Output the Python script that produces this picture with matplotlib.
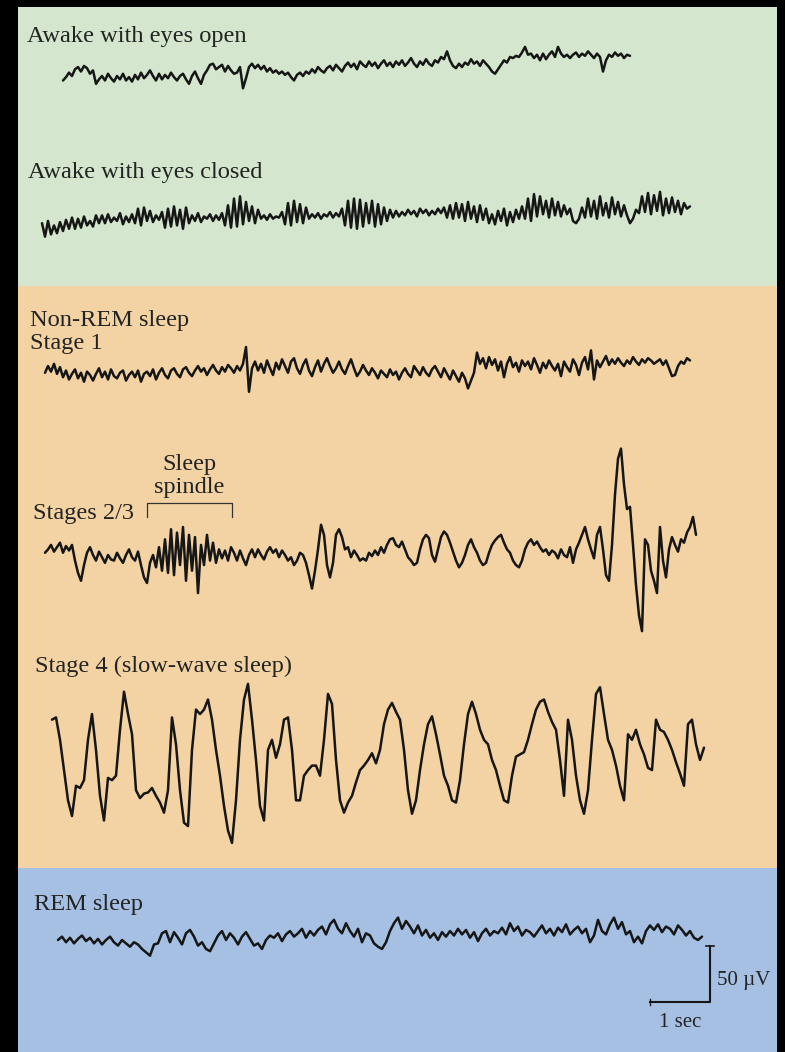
import numpy as np
import matplotlib.pyplot as plt

# EEG traces, amplitude in microvolts (up = positive),
# evenly sampled; the sample step of each trace is given in TRACES below.
awake_open = [
    -4, -1, 3, 0, 6, 8, 4, 9, 7, 2,
    5, -7, -3, 0, -4, 2, -2, -5, 0, -3,
    2, -4, -1, -5, 1, -3, 3, -2, 1, 5,
    0, -4, 2, -3, 1, -2, 3, -1, -4, 0,
    2, -3, -7, 0, 4, -2, -7, 1, 5, 10,
    11, 6, 8, 10, 4, 9, 5, 2, 3, 8,
    -11, -2, 8, 11, 7, 10, 6, 9, 4, 7,
    3, 5, 2, 4, 1, 3, -1, -4, 1, 3,
    0, 4, 2, 6, 3, 8, 5, 3, 7, 9,
    5, 10, 7, 4, 9, 12, 8, 11, 6, 13,
    10, 8, 13, 9, 12, 7, 11, 14, 9, 12,
    8, 13, 10, 14, 9, 12, 16, 11, 8, 13,
    10, 15, 11, 9, 14, 12, 17, 15, 22, 14,
    9, 7, 11, 8, 12, 10, 15, 11, 13, 9,
    14, 11, 8, 4, 2, 6, 10, 14, 12, 17,
    16, 18, 17, 21, 26, 19, 20, 16, 19, 14,
    20, 15, 19, 22, 17, 26, 20, 17, 19, 16,
    19, 21, 17, 20, 18, 22, 19, 16, 20, 17,
    4, 14, 19, 17, 21, 18, 20, 16, 19, 18,
]

awake_closed = [
    -10, -22, -8, -20, -12, -19, -9, -17, -7, -15,
    -5, -15, -6, -14, -4, -12, -8, -13, -3, -10,
    -3, -10, -2, -9, -5, -8, -1, -11, -4, -9,
    -2, -10, 3, -12, 4, -8, 1, -9, -3, -7,
    0, -14, 3, -13, 5, -12, 2, -15, 4, -10,
    -3, -8, -1, -9, -4, -6, -2, -8, -3, -7,
    -1, -12, 6, -14, 12, -13, 14, -11, 9, -8,
    5, -10, 2, -6, -3, -7, -2, -6, -4, -5,
    0, -11, 8, -12, 10, -9, 7, -10, 4, -6,
    -2, -5, -1, -6, -2, -4, 0, -5, -1, -4,
    3, -12, 10, -14, 12, -15, 11, -13, 8, -10,
    10, -13, 7, -11, 4, -8, 2, -5, 1, -4,
    0, -3, 2, -2, 1, -4, 3, -1, 2, -3,
    1, -2, 3, -1, 4, -5, 6, -6, 8, -5,
    7, -8, 9, -6, 5, -9, 6, -7, 3, -10,
    -2, -11, 1, -8, 3, -12, 0, -9, 2, -6,
    5, -6, 12, -8, 16, -4, 14, -2, 10, -5,
    12, -3, 9, -4, 6, -2, 3, -8, -10, -6,
    4, -5, 12, -4, 10, -6, 14, -3, 8, -5,
    13, -2, 9, -4, 6, -3, -10, -6, 2, -1,
    14, 0, 17, -2, 15, 1, 18, -3, 12, -1,
    13, 0, 10, -2, 8, 3, 5,
]

stage1 = [
    2, 8, 3, 10, 1, 7, -2, 4, -4, 1,
    5, -3, 2, -6, 3, 0, -5, 1, 6, -2,
    3, -4, 5, -1, -3, 2, 4, -5, 0, 3,
    -2, 4, -6, 1, 3, -1, 5, -4, 2, 6,
    0, -3, 4, 6, 1, -2, 5, 7, 2, -1,
    4, 8, 3, 6, 0, 5, 9, 4, 1, 7,
    3, 9, 6, 2, 8, 4, 10, 25, -15, 6,
    12, 4, 10, 2, 13, 6, 0, 11, 5, 14,
    8, 2, 12, 15, 6, 1, 9, 14, 4, -1,
    7, 13, 3, 10, 15, 8, 2, 6, 12, 5,
    1, 8, 14, 6, -1, 3, 9, 4, 0, 6,
    2, -3, 4, 1, -2, 5, 0, 3, -4, 2,
    6, 1, -2, 8, 4, 0, 7, 2, -1, 5,
    8, 3, -2, 6, 1, -4, 4, -1, -6, 2,
    -3, -12, -5, 2, 20, 10, 15, 6, 16, 9,
    14, 4, 12, -2, 10, 16, 7, 11, 3, 13,
    8, 12, 5, 15, 9, 2, 11, 6, 13, 8,
    4, 10, -1, 12, 7, 3, 14, 9, 0, 11,
    16, 5, 22, -4, 13, 7, 12, 17, 9, 14,
    10, 15, 11, 8, 13, 10, 16, 12, 9, 14,
    11, 15, 13, 10, 12, 14, 9, 13, 6, -1,
    0, 8, 12, 10, 15, 13,
]

stages23 = [
    2, 5, 9, 3, 7, 11, 2, 8, 4, 9,
    -5, -16, -23, -9, 2, 7, 0, -5, 3, -2,
    -7, 0, -4, -5, 2, -3, -7, 0, 5, -2,
    -5, 3, -9, -20, -25, -7, 0, -11, 7, -14,
    14, -16, 23, -18, 20, -9, 25, -23, 18, -14,
    16, -34, 9, -9, 18, -5, 11, -7, 5, -3,
    4, -5, 7, 2, -5, 4, -3, -9, 0, 5,
    -2, 5, 0, -4, 3, 7, 2, 5, -2, 4,
    0, -5, -2, -9, -5, 2, 0, -7, -18, -30,
    -14, 5, 27, 18, -9, -20, -7, 18, 23, 16,
    5, 7, -2, 4, 0, -5, -3, -5, 2, -1,
    4, 0, 7, 2, 9, 14, 15, 9, 7, 12,
    5, -2, -5, -9, -7, 5, 14, 18, 15, 0,
    -6, 5, 16, 21, 18, 11, 3, -5, -11, -7,
    0, 9, 14, 7, 2, -5, -9, -7, 2, 9,
    13, 16, 18, 11, 5, 2, -5, -9, -11, -5,
    5, 11, 14, 9, 12, 7, 3, 5, 0, 4,
    2, -3, 5, 0, -2, 7, -7, 5, 11, 18,
    25, 14, 5, -3, 18, 25, 5, -18, -23, 9,
    54, 86, 95, 63, 41, 43, 9, -27, -54, -68,
    14, 9, -14, -23, -34, 25, -5, -20, 5, 16,
    9, 3, 14, 11, 20, 25, 34, 18,
]

stage4 = [
    36, 38, 18, -9, -36, -50, -23, -25, -18, 18,
    41, 9, -32, -54, -16, -18, -14, 27, 61, 41,
    23, -27, -34, -30, -29, -25, -32, -38, -47, -27,
    38, 14, -27, -56, -59, 9, 45, 41, 45, 54,
    36, 9, -14, -41, -63, -74, -36, 18, 54, 68,
    36, 0, -41, -54, 9, 18, 2, 14, 36, 38,
    9, -36, -36, -14, -9, -5, -5, -14, 18, 59,
    50, 0, -36, -47, -38, -32, -20, -9, -5, 0,
    6, -3, 9, 32, 45, 51, 43, 36, 9, -27,
    -48, -36, -9, 14, 32, 39, 23, 5, -14, -23,
    -36, -38, -18, 14, 41, 52, 41, 27, 18, 14,
    0, -9, -23, -36, -38, -14, 3, 5, 7, 18,
    32, 45, 52, 54, 43, 34, 27, 0, -32, 36,
    18, -14, -36, -48, -27, 18, 59, 65, 41, 18,
    9, -5, -23, -36, 23, 18, 27, 14, 5, -7,
    -9, 36, 27, 25, 18, 9, -2, -12, -23, 32,
    36, 14, 0, 11,
]

rem = [
    0, 3, -2, 2, -3, 1, 4, -1, 2, -3,
    1, -4, 0, 3, -2, -5, 0, -3, -6, -2,
    -4, -8, -11, -14, -4, -3, 6, 8, -2, 7,
    2, -4, 6, 9, 3, -5, -2, -8, -10, -3,
    4, 8, 0, 6, 2, -4, 3, 7, 1, -5,
    -3, -8, 0, 4, 2, 6, -1, 5, 8, 3,
    6, 10, 2, 8, 4, 9, 12, 5, 14, 18,
    10, 6, 15, 8, 3, 10, -2, 6, 4, -3,
    -6, -8, -2, 8, 15, 20, 10, 17, 12, 6,
    13, 4, 9, 2, 6, 0, 7, 3, 8, 4,
    10, 5, 9, 2, 7, -1, 6, 10, 4, 8,
    6, 11, 5, 15, 8, 12, 4, 9, 7, 3,
    8, 13, 6, 10, 4, 11, 7, 14, 5, 9,
    12, 6, 10, -2, 4, 18, 8, 5, 14, 20,
    10, 16, 5, 8, -2, 3, -3, 8, 13, 9,
    14, 7, 12, 10, 5, 13, 9, 4, 8, 2,
    0, 3,
]

# sleep spindle span (s) and scale bar size
spindle_span = (2.45, 3.87)
bar_sec = 1.0
bar_uv = 50.0

# ---- layout (pixels of the 785x1052 page) ----
W, H = 785, 1052
PX_PER_SEC = 60.0
PX_PER_UV = 1.12


def sx(px):
    return px / PX_PER_SEC


def sy(px):
    return -px / PX_PER_UV


# (values, sample step in s, left edge px, baseline px)
TRACES = [
    (awake_open, 0.05, 63, 76),
    (awake_closed, 0.05, 42, 212),
    (stage1, 0.05, 45, 375),
    (stages23, 0.05, 45, 555),
    (stage4, 1 / 15, 52, 760),
    (rem, 1 / 15, 58, 940),
]

LABELS = [
    ("Awake with eyes open", 27, 42),
    ("Awake with eyes closed", 28, 178),
    ("Non-REM sleep", 30, 326),
    ("Stage 1", 30, 349),
    ("Stages 2/3", 33, 519),
    ("Stage 4 (slow-wave sleep)", 35, 672),
    ("REM sleep", 34, 910),
]

SERIF = ["Liberation Serif", "DejaVu Serif"]
INK = "#161616"
TXT = "#232323"

fig = plt.figure(figsize=(W / 100, H / 100), dpi=100, facecolor="black")
ax = fig.add_axes([0, 0, 1, 1])
ax.set_xlim(0, sx(W))
ax.set_ylim(sy(H), 0)
ax.axis("off")

bands = [(7, 286, "#d4e6cd"), (286, 868, "#f3d3a3"), (868, H, "#a5c0e3")]
for top, bottom, col in bands:
    ax.axhspan(sy(bottom), sy(top), xmin=18 / W, xmax=777 / W,
               color=col, lw=0, zorder=0)

for vals, dt, x0, y0 in TRACES:
    v = np.asarray(vals, dtype=float)
    t = sx(x0) + dt * np.arange(len(v))
    ax.plot(t, sy(y0) + v, color=INK, lw=1.8, solid_joinstyle="round",
            solid_capstyle="round", zorder=3)

for txt, x, y in LABELS:
    ax.text(sx(x), sy(y), txt, fontsize=17.6, family=SERIF, color=TXT,
            va="baseline", ha="left")

# sleep spindle bracket
br_top, br_tick = sy(503), sy(517)
ax.plot([spindle_span[0], spindle_span[0], spindle_span[1], spindle_span[1]],
        [br_tick, br_top, br_top, br_tick], color="#333333", lw=0.9)
mid = sum(spindle_span) / 2
ax.text(mid, sy(470), "Sleep", fontsize=17.6, family=SERIF, color=TXT,
        ha="center", va="baseline")
ax.text(mid, sy(493), "spindle", fontsize=17.6, family=SERIF, color=TXT,
        ha="center", va="baseline")

# scale bar, corner at the lower right
cx, cy = sx(710), sy(1002)
ax.plot([cx - bar_sec, cx, cx], [cy, cy, cy + bar_uv], color=INK, lw=1.5)
ax.plot([cx - 0.07, cx + 0.07], [cy + bar_uv, cy + bar_uv], color=INK, lw=1.2)
ax.plot([cx - bar_sec, cx - bar_sec], [cy - 3, cy + 3], color=INK, lw=1.0)
ax.text(cx + 0.12, cy + bar_uv * 0.38, "50 \u00b5V", fontsize=15, family=SERIF,
        color=TXT, va="center", ha="left")
ax.text(cx - bar_sec / 2, cy - 18, "1 sec", fontsize=15, family=SERIF,
        color=TXT, va="center", ha="center")

fig.savefig("out.png", dpi=100, facecolor="black")
